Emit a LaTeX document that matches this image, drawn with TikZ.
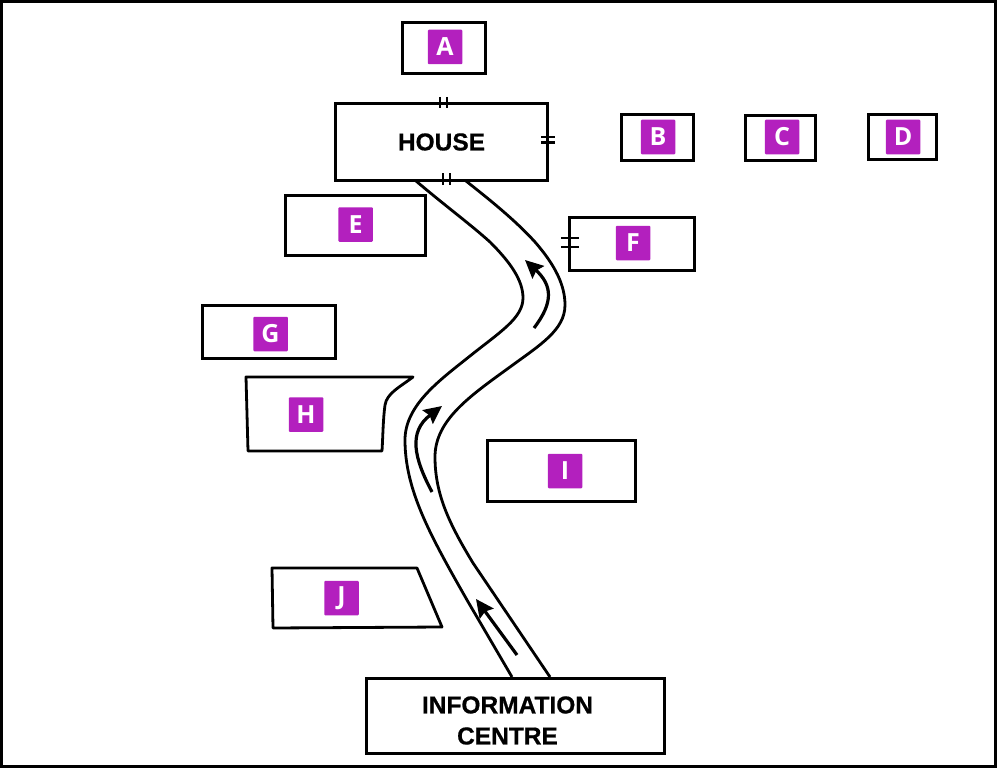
\documentclass[tikz,border=0pt]{standalone}
\usepackage{fontspec}
\setmainfont{Liberation Sans}
\newfontfamily\badgefont{Open Sans}
\newfontfamily\headfont[FakeBold=0.6]{Liberation Sans Bold}
\usetikzlibrary{arrows.meta}
\definecolor{badgepurple}{HTML}{B320BE}
\tikzset{
  ink/.style={line width=2.8pt,black},
  plotbox/.style={draw,ink,rectangle,inner sep=0pt,anchor=north west,xshift=-1pt,yshift=1pt},
  badge/.style={fill=badgepurple,rounded corners=1pt,minimum size=34.5pt,inner sep=0pt,text=white,font=\badgefont\bfseries\fontsize{25}{25}\selectfont},
  headtext/.style={font=\headfont\fontsize{24.5}{31}\selectfont,align=center,inner sep=0pt,text=black},
  road/.style={ink,line join=round},
  tick/.style={line width=2.4pt,black},
  flow/.style={line width=3.2pt,black,-{Stealth[length=18pt,width=17pt,inset=2.5pt]}}
}
\begin{document}
\begin{tikzpicture}[x=1pt,y=-1pt]
\useasboundingbox (0,0) rectangle (997,768);
\fill[white] (0,0) rectangle (997,768);
\draw[line width=3pt,black] (1.5,1.5) rectangle (995.5,766.5);

% plots
\node[plotbox,minimum width=83pt,minimum height=51pt] (plotA) at (402,22) {};
\node[plotbox,minimum width=212pt,minimum height=77pt] (house) at (335,103) {};
\node[plotbox,minimum width=72pt,minimum height=46pt] (plotB) at (621,114) {};
\node[plotbox,minimum width=70pt,minimum height=45pt] (plotC) at (745,115) {};
\node[plotbox,minimum width=68pt,minimum height=45pt] (plotD) at (868,114) {};
\node[plotbox,minimum width=140pt,minimum height=60pt] (plotE) at (285,195) {};
\node[plotbox,minimum width=125pt,minimum height=53pt] (plotF) at (569,217) {};
\node[plotbox,minimum width=133pt,minimum height=53pt] (plotG) at (202,305) {};
\node[plotbox,minimum width=148pt,minimum height=61pt] (plotI) at (487,440) {};
\node[plotbox,minimum width=298pt,minimum height=75pt] (info) at (366,678) {};

\draw[ink,line join=round] (246,377) -- (413,377) .. controls (400,387) and (387,393) .. (385,405)
  .. controls (383,420) and (383,435) .. (382,451) -- (248,451) -- cycle;
\draw[ink,line join=round] (272,568) -- (417,568) -- (442,627) -- (273,628) -- cycle;

% text
\node[headtext] (houselabel) at (441.5,142) {HOUSE};
\node[headtext] (infolabel) at (507.5,720.5) {INFORMATION\\CENTRE};

% badges
\node[badge] (a) at (445,47) {A};
\node[badge] (b) at (658,137) {B};
\node[badge] (c) at (782,137) {C};
\node[badge] (d) at (903,137) {D};
\node[badge] (e) at (355.5,224.5) {E};
\node[badge] (f) at (633,243) {F};
\node[badge] (g) at (270.5,334) {G};
\node[badge] (h) at (306,414.5) {H};
\node[badge] (i) at (565,471) {I};
\node[badge] (j) at (341.5,598) {J};

% road
\coordinate (rl0) at (416,181);
\coordinate (rr0) at (466,181);
\coordinate (rl1) at (512,677);
\coordinate (rr1) at (550,677);
\draw[road] (rl0) .. controls (448,208) and (470,224) .. (490,242)
  .. controls (510,262) and (523,280) .. (523,298)
  .. controls (523,318) and (500,332) .. (470,356)
  .. controls (440,380) and (405,405) .. (405,440)
  .. controls (405,490) and (430,535) .. (467,600) -- (rl1);
\draw[road] (rr0) .. controls (490,200) and (515,220) .. (535,242)
  .. controls (555,265) and (565,285) .. (565,305)
  .. controls (565,330) and (540,345) .. (510,367)
  .. controls (470,396) and (435,420) .. (435,457)
  .. controls (435,495) and (450,525) .. (473,563) -- (rr1);

% arrows
\coordinate (af0) at (517,655); \coordinate (af1) at (476,599);
\coordinate (ag0) at (432,492); \coordinate (ag1) at (442,406);
\coordinate (ah0) at (534,328); \coordinate (ah1) at (525,260);
\draw[flow] (af0) -- (af1);
\draw[flow] (ag0) .. controls (414,458) and (408,432) .. (ag1);
\draw[flow] (ah0) .. controls (554,302) and (552,285) .. (ah1);

% ticks
\draw[tick] (440,97) -- (440,108);
\draw[tick] (447,97) -- (447,108);
\draw[tick] (443,173) -- (443,185);
\draw[tick] (450,173) -- (450,185);
\draw[tick] (541,137) -- (555,137);
\draw[tick] (541,142.5) -- (555,142.5);
\draw[tick] (561,238) -- (579,238);
\draw[tick] (561,247) -- (579,247);
\end{tikzpicture}
\end{document}
